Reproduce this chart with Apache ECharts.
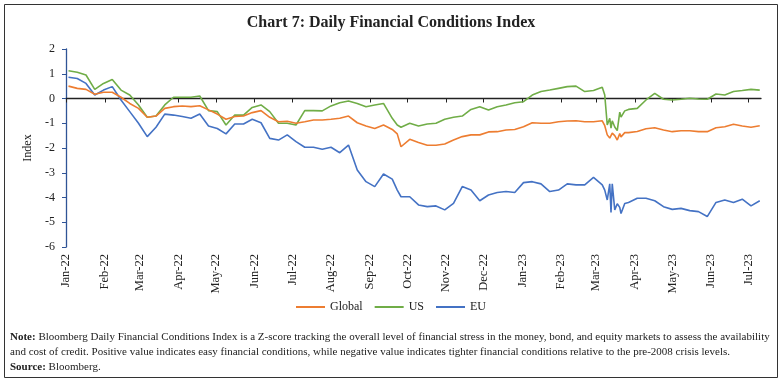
<!DOCTYPE html>
<html>
<head>
<meta charset="utf-8">
<script src="https://cdn.jsdelivr.net/npm/echarts@6/dist/echarts.min.js"></script>
<style>
html,body{margin:0;padding:0;background:#fff;}
#chart{width:782px;height:381px;}
</style>
</head>
<body>
<div id="chart"></div>
<script>
// ---- Data ----
var dates = [
'2022-01-03','2022-01-10','2022-01-17','2022-01-24','2022-01-31','2022-02-07','2022-02-14','2022-02-21','2022-02-28',
'2022-03-07','2022-03-14','2022-03-21','2022-03-28','2022-04-04','2022-04-11','2022-04-18','2022-04-25',
'2022-05-02','2022-05-09','2022-05-16','2022-05-23','2022-05-30','2022-06-06','2022-06-13','2022-06-20','2022-06-27',
'2022-07-04','2022-07-11','2022-07-18','2022-07-25','2022-08-01','2022-08-08','2022-08-15','2022-08-22','2022-08-29',
'2022-09-05','2022-09-12','2022-09-19','2022-09-23','2022-09-26','2022-10-03','2022-10-10','2022-10-17','2022-10-24','2022-10-31',
'2022-11-07','2022-11-14','2022-11-21','2022-11-28','2022-12-05','2022-12-12','2022-12-19','2022-12-26',
'2023-01-02','2023-01-09','2023-01-16','2023-01-23','2023-01-30','2023-02-06','2023-02-13','2023-02-20','2023-02-27',
'2023-03-06','2023-03-08','2023-03-10','2023-03-12','2023-03-13','2023-03-14','2023-03-16','2023-03-18','2023-03-20','2023-03-21','2023-03-24','2023-03-27',
'2023-04-03','2023-04-10','2023-04-17','2023-04-24','2023-05-01','2023-05-08','2023-05-15','2023-05-22','2023-05-29',
'2023-06-05','2023-06-12','2023-06-19','2023-06-26','2023-07-03','2023-07-10'
];
var globalVals = [
0.50,0.41,0.37,0.17,0.25,0.25,0.05,-0.20,-0.40,
-0.76,-0.71,-0.40,-0.33,-0.30,-0.33,-0.29,-0.46,
-0.63,-0.84,-0.73,-0.71,-0.57,-0.49,-0.76,-0.94,-0.92,
-1.00,-0.94,-0.87,-0.87,-0.84,-0.80,-0.71,-0.98,-1.11,
-1.21,-1.07,-1.25,-1.43,-1.95,-1.65,-1.78,-1.89,-1.89,-1.84,
-1.68,-1.54,-1.47,-1.47,-1.35,-1.34,-1.27,-1.25,
-1.14,-0.98,-1.00,-1.00,-0.94,-0.91,-0.90,-0.94,-0.94,
-0.90,-1.10,-1.47,-1.60,-1.50,-1.40,-1.50,-1.68,-1.42,-1.55,-1.38,-1.38,
-1.33,-1.22,-1.18,-1.27,-1.34,-1.30,-1.30,-1.34,-1.34,
-1.18,-1.14,-1.04,-1.11,-1.16,-1.10
];
var usVals = [
1.12,1.06,0.95,0.37,0.61,0.77,0.34,0.14,-0.26,
-0.76,-0.71,-0.26,0.05,0.05,0.05,0.10,-0.49,
-0.53,-1.07,-0.67,-0.67,-0.36,-0.26,-0.53,-1.00,-1.00,
-1.07,-0.49,-0.49,-0.50,-0.30,-0.17,-0.10,-0.20,-0.33,
-0.26,-0.20,-0.80,-1.07,-1.16,-1.00,-1.11,-1.03,-1.00,-0.84,
-0.76,-0.71,-0.44,-0.33,-0.46,-0.33,-0.26,-0.17,
-0.13,0.14,0.28,0.34,0.41,0.48,0.50,0.28,0.32,
0.45,0.14,-1.07,-0.80,-1.20,-0.90,-1.15,-1.30,-0.55,-0.75,-0.50,-0.44,
-0.40,-0.06,0.21,-0.03,-0.06,-0.03,0.01,-0.02,-0.03,
0.18,0.14,0.28,0.32,0.37,0.34
];
var euVals = [
0.86,0.81,0.61,0.14,0.34,0.48,-0.06,-0.53,-1.00,
-1.54,-1.16,-0.63,-0.67,-0.73,-0.80,-0.63,-1.11,
-1.21,-1.43,-1.03,-1.03,-0.84,-0.98,-1.61,-1.68,-1.47,
-1.74,-1.97,-1.97,-2.05,-1.97,-2.19,-1.88,-2.89,-3.36,
-3.56,-3.05,-3.26,-3.70,-3.97,-3.97,-4.30,-4.37,-4.34,-4.50,
-4.24,-3.56,-3.70,-4.13,-3.90,-3.80,-3.76,-3.80,
-3.40,-3.36,-3.45,-3.76,-3.70,-3.45,-3.49,-3.49,-3.19,
-3.49,-3.70,-4.10,-3.45,-4.60,-3.45,-4.50,-4.25,-4.40,-4.65,-4.24,-4.20,
-4.03,-4.03,-4.13,-4.37,-4.48,-4.44,-4.53,-4.57,-4.77,
-4.20,-4.10,-4.20,-4.07,-4.34,-4.13
];
var seriesNames = ['Global','US','EU'];
var seriesColors = ['#ED7D31','#70AD47','#4472C4'];
var monthStarts = ['2022-01-01','2022-02-01','2022-03-01','2022-04-01','2022-05-01','2022-06-01','2022-07-01','2022-08-01','2022-09-01',
'2022-10-01','2022-11-01','2022-12-01','2023-01-01','2023-02-01','2023-03-01','2023-04-01','2023-05-01','2023-06-01','2023-07-01'];
var monthLabels = ['Jan-22','Feb-22','Mar-22','Apr-22','May-22','Jun-22','Jul-22','Aug-22','Sep-22',
'Oct-22','Nov-22','Dec-22','Jan-23','Feb-23','Mar-23','Apr-23','May-23','Jun-23','Jul-23'];
var yTicks = [-6,-5,-4,-3,-2,-1,0,1,2];
var titleText = 'Chart 7: Daily Financial Conditions Index';
var axisMinDate = '2022-01-01', axisMaxDate = '2023-07-11';

// ---- Helpers ----
function ts(s){var p=s.split('-');return Date.UTC(+p[0],+p[1]-1,+p[2]);}
var dateTs = dates.map(ts);
var monthTs = monthStarts.map(ts);
function pairs(vals){return vals.map(function(v,i){return [dateTs[i], v];});}
var allVals = [globalVals, usVals, euVals];

var serif = 'Liberation Serif';
var chart = echarts.init(document.getElementById('chart'), null, {renderer:'canvas'});
var option = {
  animation:false,
  backgroundColor:'#fff',
  title:{text:titleText,left:'center',top:10,textStyle:{fontFamily:serif,fontWeight:'bold',fontSize:16,color:'#222'}},
  grid:{left:66,right:21,top:49,bottom:134,containLabel:false},
  legend:{
    data:seriesNames, top:296, left:'center', itemWidth:29, itemHeight:2, itemGap:12, icon:'rect',
    textStyle:{fontFamily:serif,fontSize:12,color:'#222'}
  },
  xAxis:[
    {type:'value',min:ts(axisMinDate),max:ts(axisMaxDate),position:'bottom',scale:true,
     axisLine:{show:false,onZero:false},axisTick:{show:false},splitLine:{show:false},
     axisLabel:{customValues:monthTs,rotate:90,margin:7,fontFamily:serif,fontSize:12.5,color:'#222',
       formatter:function(v){var i=monthTs.indexOf(v);return i>=0?monthLabels[i]:'';}}},
    {type:'value',min:ts(axisMinDate),max:ts(axisMaxDate),position:'bottom',scale:true,
     axisLine:{show:true,onZero:true,lineStyle:{color:'#222',width:1.3}},
     axisTick:{show:true,customValues:monthTs,length:4,inside:false,lineStyle:{color:'#222'}},
     axisLabel:{show:false},splitLine:{show:false}}
  ],
  yAxis:{type:'value',min:-6,max:2,interval:1,
    name:'Index',nameLocation:'middle',nameRotate:90,nameGap:31,
    nameTextStyle:{fontFamily:serif,fontSize:12,color:'#222'},
    axisLine:{show:true,onZero:false,lineStyle:{color:'#2F5496',width:1.3}},
    axisTick:{show:true,length:4,lineStyle:{color:'#2F5496'}},
    axisLabel:{fontFamily:serif,fontSize:12,color:'#222',margin:11},
    splitLine:{show:false}},
  series: seriesNames.map(function(n,i){
    return {name:n,type:'line',xAxisIndex:0,data:pairs(allVals[i]),showSymbol:false,symbol:'none',
      lineStyle:{color:seriesColors[i],width:1.6},itemStyle:{color:seriesColors[i]},z:3-i};
  }),
  graphic:[
    {type:'rect',shape:{x:4.5,y:4.5,width:773,height:373},style:{fill:null,stroke:'#333',lineWidth:1},silent:true},
    {type:'text',left:10,top:330,style:{
      text:'{b|Note:} Bloomberg Daily Financial Conditions Index is a Z-score tracking the overall level of financial stress in the money, bond, and equity markets to assess the availability\nand cost of credit. Positive value indicates easy financial conditions, while negative value indicates tighter financial conditions relative to the pre-2008 crisis levels.\n{b|Source:} Bloomberg.',
      font:'11px '+serif, fill:'#222', lineHeight:15,
      rich:{b:{fontWeight:'bold',fontFamily:serif,fontSize:11,fill:'#222'}}
    }}
  ]
};
chart.setOption(option);
</script>
</body>
</html>
